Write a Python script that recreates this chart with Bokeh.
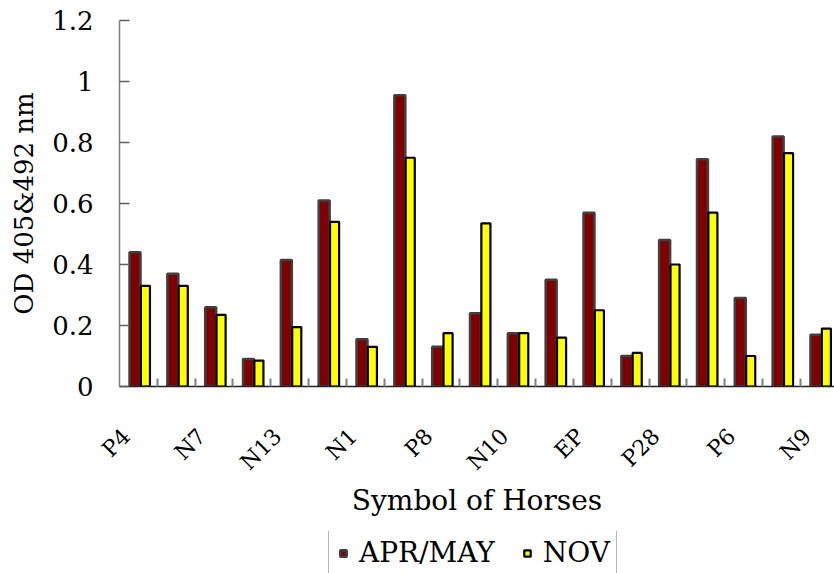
import math
import numpy as np
from bokeh.plotting import figure
from bokeh.layouts import column
from bokeh.models import (ColumnDataSource, FixedTicker, Range1d, Legend, LegendItem)
from bokeh.embed import file_html
from bokeh.resources import INLINE

# OD readings per horse, two sampling periods
apr_may = [0.44, 0.37, 0.26, 0.09, 0.415, 0.61, 0.155, 0.955, 0.13, 0.24,
           0.175, 0.35, 0.57, 0.10, 0.48, 0.745, 0.29, 0.82, 0.17]
nov = [0.33, 0.33, 0.235, 0.085, 0.195, 0.54, 0.13, 0.75, 0.175, 0.535,
       0.175, 0.16, 0.25, 0.11, 0.40, 0.57, 0.10, 0.765, 0.19]
series_names = ["APR/MAY", "NOV"]

# only every other horse is labelled on the axis
horse_labels = ["P4", "N7", "N13", "N1", "P8", "N10", "EP", "P28", "P6", "N9"]
y_ticks = [0, 0.2, 0.4, 0.6, 0.8, 1.0, 1.2]
y_tick_labels = ["0", "0.2", "0.4", "0.6", "0.8", "1", "1.2"]

FONT = "DejaVu Serif"
STYLE_A = dict(fill_color="#800000", line_color="#404040", line_width=2.5)
STYLE_N = dict(fill_color="#FFFF00", line_color="#000000", line_width=2.2)

n = len(apr_may)
idx = np.arange(n)

src = ColumnDataSource(dict(
    x_a=idx + 0.41, x_n=idx + 0.685, apr_may=apr_may, nov=nov))

p = figure(width=834, height=531, frame_width=715, frame_height=366,
           x_range=Range1d(0, 18.9), y_range=Range1d(0, 1.2),
           output_backend="svg", toolbar_location=None,
           min_border_top=20, min_border_right=0, min_border_left=119,
           min_border_bottom=145)
p.outline_line_color = None
p.xgrid.visible = False
p.ygrid.visible = False

p.vbar(x="x_a", top="apr_may", width=0.29, source=src, **STYLE_A)
p.vbar(x="x_n", top="nov", width=0.24, source=src, **STYLE_N)

# x axis: slanted labels hung just left of each labelled horse's centre,
# short inner ticks at the boundaries between horses
label_pos = [2 * i + 0.5 - 0.32 for i in range(len(horse_labels))]
xa = p.xaxis[0]
xa.ticker = FixedTicker(ticks=label_pos, minor_ticks=list(range(1, n)))
xa.major_label_overrides = {pos: lab for pos, lab in zip(label_pos, horse_labels)}
xa.major_label_orientation = math.pi / 4
xa.major_label_text_font = FONT
xa.major_label_text_font_size = "22px"
xa.major_label_text_color = "black"
xa.major_label_standoff = 46
xa.major_tick_in = 0
xa.major_tick_out = 0
xa.minor_tick_in = 8
xa.minor_tick_out = 0
xa.minor_tick_line_color = "#808080"
xa.minor_tick_line_width = 2
xa.axis_line_color = "#202020"
xa.axis_line_width = 1.5
xa.axis_label = "Symbol of Horses"
xa.axis_label_text_font = FONT
xa.axis_label_text_font_size = "28px"
xa.axis_label_text_font_style = "normal"
xa.axis_label_text_color = "black"
xa.axis_label_standoff = -3

ya = p.yaxis[0]
ya.ticker = FixedTicker(ticks=y_ticks, minor_ticks=[])
ya.major_label_overrides = {t: s for t, s in zip(y_ticks, y_tick_labels)}
ya.major_label_text_font = FONT
ya.major_label_text_font_size = "26px"
ya.major_label_text_color = "black"
ya.major_label_standoff = 26
ya.major_tick_in = 10
ya.major_tick_out = 0
ya.major_tick_line_color = "#606060"
ya.major_tick_line_width = 1.5
ya.axis_line_color = "#808080"
ya.axis_line_width = 1.5
ya.axis_label = "OD 405&492 nm"
ya.axis_label_text_font = FONT
ya.axis_label_text_font_size = "26px"
ya.axis_label_text_font_style = "normal"
ya.axis_label_text_color = "black"
ya.axis_label_standoff = 10

# legend strip under the chart: a bare figure holding only the legend box;
# its square key markers sit outside the visible range so only the legend shows
lg = figure(width=834, height=42, x_range=Range1d(0, 1), y_range=Range1d(0, 1),
            output_backend="svg", toolbar_location=None,
            min_border=0, outline_line_color=None)
lg.axis.visible = False
lg.grid.visible = False
key_a = lg.scatter(x=[5], y=[5], marker="square", size=16, **STYLE_A)
key_n = lg.scatter(x=[5], y=[5], marker="square", size=16, **STYLE_N)

legend = Legend(items=[LegendItem(label=series_names[0], renderers=[key_a]),
                       LegendItem(label=series_names[1], renderers=[key_n])],
                orientation="horizontal", location=(209, -3),
                label_text_font=FONT, label_text_font_size="28px",
                label_text_color="black",
                glyph_width=16, glyph_height=16, label_standoff=8,
                spacing=24, padding=6, margin=0,
                border_line_color="#707070", border_line_width=1.5)
lg.add_layout(legend, "center")

layout = column(p, lg, spacing=0)
open("out.html", "w").write(file_html(layout, INLINE))
